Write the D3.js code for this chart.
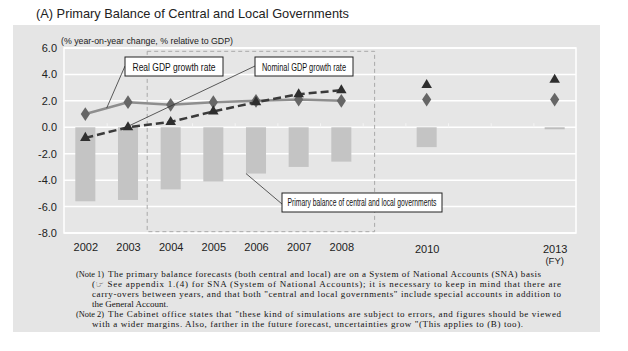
<!DOCTYPE html>
<html>
<head>
<meta charset="utf-8">
<script src="https://cdn.jsdelivr.net/npm/d3@7"></script>
<style>
  body { margin: 0; background: #fff; }
  svg { display: block; }
</style>
</head>
<body>
<div id="chart"></div>
<script>
"use strict";

// == DATA ==
var years = [2002, 2003, 2004, 2005, 2006, 2007, 2008, 2010, 2013];
var primaryBalance = [-5.6, -5.5, -4.7, -4.1, -3.5, -3.0, -2.6, -1.5, -0.15];
var realGDP = [1.0, 1.9, 1.7, 1.9, 2.0, 2.1, 2.0, 2.1, 2.1];
var nominalGDP = [-0.8, 0.0, 0.4, 1.2, 1.9, 2.5, 2.8, 3.2, 3.6];
var lineYears = [2002, 2003, 2004, 2005, 2006, 2007, 2008]; // connected part
var yTicks = [-8, -6, -4, -2, 0, 2, 4, 6];

var title = "(A) Primary Balance of Central and Local Governments";
var unitLabel = "(% year-on-year change, % relative to GDP)";
var notes = [
  { label: "(Note 1)", lines: [
    "The primary balance forecasts (both central and local) are on a System of National Accounts (SNA) basis",
    "(\u261E See appendix 1.(4) for SNA (System of National Accounts); it is necessary to keep in mind that there are",
    "carry-overs between years, and that both \"central and local governments\" include special accounts in addition to",
    "the General Account."] },
  { label: "(Note 2)", lines: [
    "The Cabinet office states that \"these kind of simulations are subject to errors, and figures should be viewed",
    "with a wider margins. Also, farther in the future forecast, uncertainties grow \"(This applies to (B) too)."] }
];

var data = years.map(function (y, i) {
  return { year: y, pb: primaryBalance[i], real: realGDP[i], nominal: nominalGDP[i] };
});

// == BOILERPLATE ==
var W = 628, H = 351;
var svg = d3.select("#chart").append("svg")
  .attr("width", W).attr("height", H);

var sans = "'Liberation Sans', Arial, sans-serif";
var narrow = "'Liberation Sans Narrow', 'Liberation Sans', Arial, sans-serif";
var serif = "'Liberation Serif', 'Times New Roman', serif";

// gray panel
svg.append("rect")
  .attr("x", 13).attr("y", 25).attr("width", 587).attr("height", 307)
  .attr("fill", "#e5e5e5");

svg.append("text")
  .attr("x", 36).attr("y", 18)
  .attr("font-family", sans).attr("font-size", 12.8).attr("fill", "#222")
  .text(title);

// == SCALES ==
var x = d3.scaleLinear().domain([2001.5, 2013.5]).range([64, 576]);
var y = d3.scaleLinear().domain([-8, 6]).range([233, 48]);
var barW = x(2002.47) - x(2002);

// plot frame
svg.append("rect")
  .attr("x", x(2001.5)).attr("y", y(6))
  .attr("width", x(2013.5) - x(2001.5)).attr("height", y(-8) - y(6))
  .attr("fill", "#e6e6e6").attr("stroke", "#fff").attr("stroke-width", 1.5);

// gridlines
svg.append("g").selectAll("line")
  .data(yTicks).enter().append("line")
  .attr("x1", x(2001.5)).attr("x2", x(2013.5))
  .attr("y1", function (d) { return y(d); })
  .attr("y2", function (d) { return y(d); })
  .attr("stroke", "#fff").attr("stroke-width", 1.5);

// y axis
var fmt = d3.format(".1f");
var yAxis = d3.axisLeft(y).tickValues(yTicks).tickSize(0).tickPadding(0)
  .tickFormat(function (d) { return fmt(d).replace("\u2212", "-"); });
var gy = svg.append("g").attr("transform", "translate(57,0)").call(yAxis);
gy.select(".domain").remove();
gy.selectAll("text")
  .attr("font-family", sans).attr("font-size", 11).attr("fill", "#222");

svg.append("text")
  .attr("x", 61).attr("y", 44)
  .attr("font-family", sans).attr("font-size", 9.5).attr("fill", "#222")
  .attr("textLength", 172).attr("lengthAdjust", "spacingAndGlyphs")
  .text(unitLabel);

// dashed box around 2004-2008
svg.append("rect")
  .attr("x", x(2003.45)).attr("y", y(5.75))
  .attr("width", x(2008.78) - x(2003.45)).attr("height", y(-7.9) - y(5.75))
  .attr("fill", "none").attr("stroke", "#a8a8a8").attr("stroke-width", 1)
  .attr("stroke-dasharray", "4,3");

// bars
svg.append("g").selectAll("rect")
  .data(data).enter().append("rect")
  .attr("x", function (d) { return x(d.year) - barW / 2; })
  .attr("y", y(0))
  .attr("width", barW)
  .attr("height", function (d) { return y(d.pb) - y(0); })
  .attr("fill", function (d) { return d.year === 2013 ? "#bdbdbd" : "#c4c4c4"; });

// small category ticks on the zero line
var boundaries = d3.range(2002.5, 2013, 1);
var tickAxis = d3.axisTop(x).tickValues(boundaries).tickSize(4).tickFormat("");
var gt = svg.append("g").attr("transform", "translate(0," + y(0) + ")").call(tickAxis);
gt.select(".domain").remove();
gt.selectAll("line").attr("stroke", "#f4f4f4");

// x axis labels
var xAxis = d3.axisBottom(x).tickValues(years).tickSize(0).tickFormat(d3.format("d"));
var gx = svg.append("g").attr("transform", "translate(0,240)").call(xAxis);
gx.select(".domain").remove();
gx.selectAll("text")
  .attr("font-family", sans).attr("font-size", 11).attr("fill", "#222")
  .attr("dy", function (d) { return d > 2008 ? "0.9em" : "0.75em"; });
svg.append("text")
  .attr("x", x(2013)).attr("y", 263.5)
  .attr("text-anchor", "middle")
  .attr("font-family", sans).attr("font-size", 9.5).attr("fill", "#222")
  .text("(FY)");

// lines
var lineData = data.filter(function (d) { return lineYears.indexOf(d.year) >= 0; });
var realLine = d3.line()
  .x(function (d) { return x(d.year); })
  .y(function (d) { return y(d.real); });
var nomLine = d3.line()
  .x(function (d) { return x(d.year); })
  .y(function (d) { return y(d.nominal); });

svg.append("path").datum(lineData)
  .attr("d", realLine)
  .attr("fill", "none").attr("stroke", "#8e8e8e").attr("stroke-width", 2.5);

svg.append("path").datum(lineData)
  .attr("d", nomLine)
  .attr("fill", "none").attr("stroke", "#3a3a3a").attr("stroke-width", 2.5)
  .attr("stroke-dasharray", "8,4");

// markers
svg.append("g").selectAll("path")
  .data(data).enter().append("path")
  .attr("d", d3.symbol().type(d3.symbolDiamond).size(55))
  .attr("transform", function (d) { return "translate(" + x(d.year) + "," + y(d.real) + ") scale(1.15,1)"; })
  .attr("fill", "#666");

svg.append("g").selectAll("path")
  .data(data).enter().append("path")
  .attr("d", d3.symbol().type(d3.symbolTriangle).size(48))
  .attr("transform", function (d) { return "translate(" + x(d.year) + "," + y(d.nominal) + ")"; })
  .attr("fill", "#2e2e2e");

// == CALLOUTS ==
function callout(bx, by, bw, bh, label, fs, tl, x1, y1, x2, y2) {
  svg.append("line")
    .attr("x1", x1).attr("y1", y1).attr("x2", x2).attr("y2", y2)
    .attr("stroke", "#333").attr("stroke-width", 0.8);
  svg.append("rect")
    .attr("x", bx).attr("y", by).attr("width", bw).attr("height", bh)
    .attr("fill", "#fff").attr("stroke", "#222").attr("stroke-width", 1);
  svg.append("text")
    .attr("x", bx + bw / 2).attr("y", by + bh / 2 + fs * 0.36)
    .attr("text-anchor", "middle")
    .attr("font-family", narrow).attr("font-size", fs).attr("fill", "#111")
    .attr("textLength", tl).attr("lengthAdjust", "spacingAndGlyphs")
    .text(label);
}

callout(125, 57, 98, 19, "Real GDP growth rate", 11.5, 83,
  125, 66, x(2002.5), (y(realGDP[0]) + y(realGDP[1])) / 2);
callout(255, 57, 98, 19, "Nominal GDP growth rate", 11.5, 84,
  255, 66, x(2003) - 2, y(nominalGDP[1]));
callout(282, 193, 160, 19, "Primary balance of central and local governments", 10.5, 149,
  282, 204, x(2006) - barW / 2, y(primaryBalance[4]));

// == NOTES ==
var noteY = [277, 287, 297, 307, 316.5, 326.5];
var bodyWidths = [[433, 469, 469, null], [453, 431]];
var li = 0;
notes.forEach(function (n, ni) {
  svg.append("text")
    .attr("x", 76).attr("y", noteY[li])
    .attr("font-family", serif).attr("font-size", 9).attr("fill", "#111")
    .attr("textLength", 28).attr("lengthAdjust", "spacingAndGlyphs")
    .text(n.label);
  n.lines.forEach(function (t, j) {
    var tx = j === 0 ? 108 : 92;
    var w = bodyWidths[ni][j];
    var el = svg.append("text")
      .attr("x", tx).attr("y", noteY[li])
      .attr("font-family", serif).attr("font-size", 9).attr("fill", "#111");
    // the pointing-hand icon gets its own font so it shows clearly
    var parts = t.split("\u261E");
    el.append("tspan").text(parts[0]);
    if (parts.length > 1) {
      el.append("tspan")
        .attr("font-family", "'DejaVu Sans', sans-serif")
        .attr("font-size", 9).attr("font-weight", "bold").attr("fill", "#000")
        .text("\u261E");
      el.append("tspan").text(parts[1]);
    }
    if (w) el.attr("textLength", w).attr("lengthAdjust", "spacing");
    li++;
  });
});
</script>
</body>
</html>
